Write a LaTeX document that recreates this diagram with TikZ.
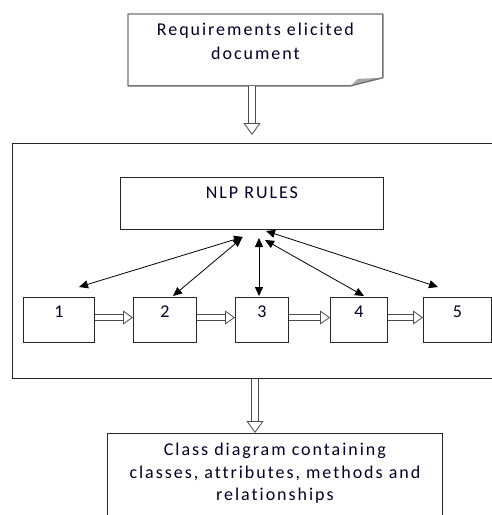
\documentclass[tikz,border=0pt]{standalone}
\usepackage{fontspec}
\setmainfont{Carlito}[LetterSpace=11,Ligatures=NoCommon]
\usetikzlibrary{arrows.meta,positioning}

\begin{document}
\begin{tikzpicture}[x=1pt,y=-1pt,
    box/.style={draw=black!85,line width=0.8pt,fill=none,inner sep=0pt,
      align=center,text height=11pt,font=\fontsize{18}{24}\selectfont,text=black!85!blue},
    link/.style={{Triangle[length=9pt,width=8pt]}-{Triangle[length=9pt,width=8pt]},draw=black,line width=0.8pt},
    hollow/.style={-{Triangle[open,length=10pt,width=14pt]},double=white,double distance=5pt,line width=0.8pt,draw=black!70},
    bighollow/.style={hollow,-{Triangle[open,length=12pt,width=17pt]},double distance=6pt}
  ]
  \useasboundingbox (0,0) rectangle (492,515);
  \clip (0,0) rectangle (492,515);

  % input document
  \node[box,draw=none,anchor=north west,minimum width=254pt,minimum height=71pt,text height=40pt,text depth=21pt] (req) at (128,14)
    {Requirements elicited\\document};
  \fill[black!35] ([xshift=-32pt]req.south east) -- ([xshift=-25pt,yshift=7pt]req.south east) -- ([yshift=8pt]req.south east) -- cycle;
  \draw[black!55,line width=1.4pt,line join=round] (req.north west) -- (req.north east) -- ([yshift=8pt]req.south east)
    -- ([xshift=-32pt]req.south east) -- (req.south west) -- cycle;

  % processing frame
  \node[draw=black!85,line width=0.9pt,anchor=north west,minimum width=500pt,minimum height=235pt] (frame) at (12,143) {};
  \node[box,anchor=north west,minimum width=263pt,minimum height=52pt,text depth=20pt] (nlp) at (120,177) {NLP RULES};
  \node[box,anchor=north west,minimum width=71pt,minimum height=45pt,text depth=15pt] (s1) at (23,297) {1};
  \node[box,anchor=north west,minimum width=63pt,minimum height=45pt,text depth=15pt] (s2) at (133,297) {2};
  \node[box,anchor=north west,minimum width=53pt,minimum height=45pt,text depth=15pt] (s3) at (235,297) {3};
  \node[box,anchor=north west,minimum width=57pt,minimum height=45pt,text depth=15pt] (s4) at (330,297) {4};
  \node[box,anchor=north west,minimum width=68pt,minimum height=45pt,text depth=15pt] (s5) at (423,297) {5};

  % output
  \node[box,anchor=north west,minimum width=335pt,minimum height=90pt,text height=67pt,text depth=22pt,
    font=\fontsize{18}{22.5}\selectfont] (cls) at (107,433)
    {Class diagram containing\\classes, attributes, methods and\\relationships};

  % link ends
  \coordinate (u1) at (243,237);
  \coordinate (u2) at (242,238);
  \coordinate (u3) at (259,238);
  \coordinate (u4) at (265,240);
  \coordinate (u5) at (266,231);
  \coordinate (d1) at (79,287);
  \coordinate (d2) at (173,296);
  \coordinate (d3) at (259,296);
  \coordinate (d4) at (364,296);
  \coordinate (d5) at (438,287);

  \draw[link] (u1) -- (d1);
  \draw[link] (u2) -- (d2);
  \draw[link] (u3) -- (d3);
  \draw[link] (u4) -- (d4);
  \draw[link] (u5) -- (d5);

  \draw[hollow] (s1.east |- 0,317.5) -- (s2.west |- 0,317.5);
  \draw[hollow] (s2.east |- 0,317.5) -- (s3.west |- 0,317.5);
  \draw[hollow] (s3.east |- 0,317.5) -- (s4.west |- 0,317.5);
  \draw[hollow] (s4.east |- 0,317.5) -- (s5.west |- 0,317.5);

  \draw[bighollow,shorten >=8pt] (req.south -| 252,0) -- (frame.north -| 252,0);
  \draw[bighollow] (frame.south -| 255,0) -- (cls.north -| 255,0);
\end{tikzpicture}
\end{document}
